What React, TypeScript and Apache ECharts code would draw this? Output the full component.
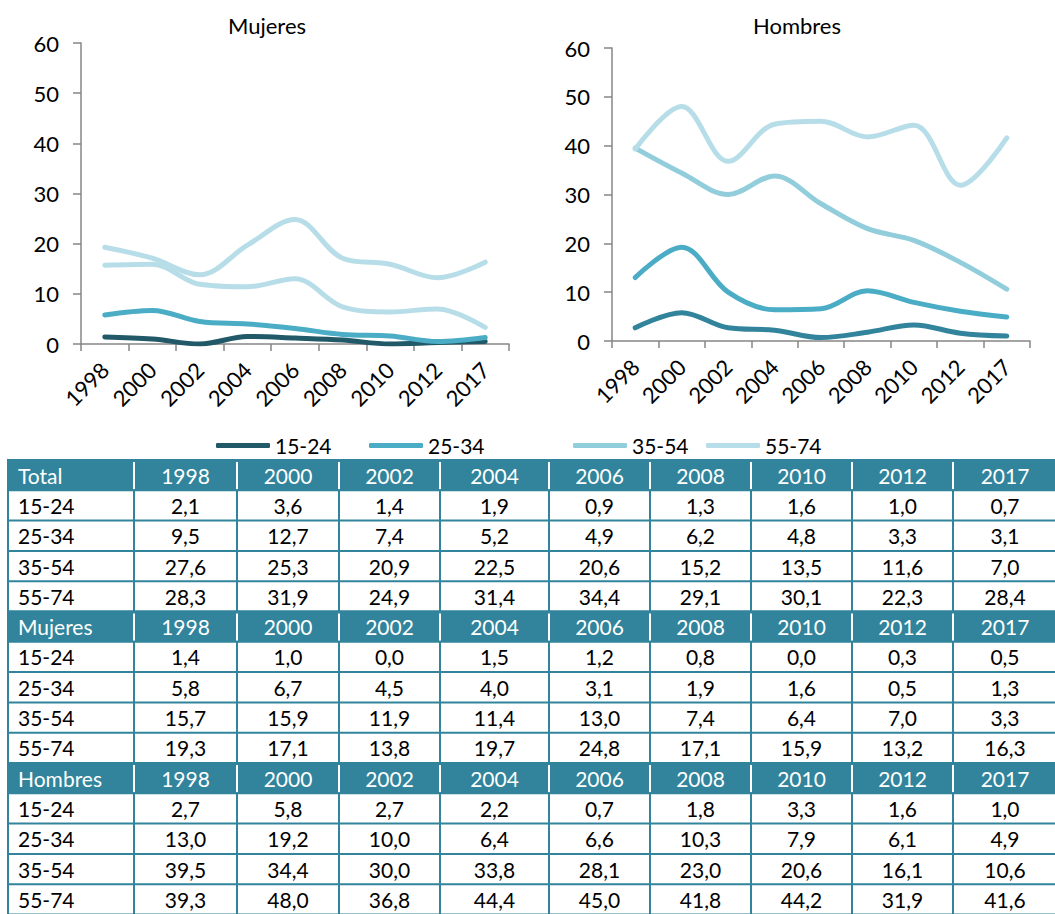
import React, { useEffect, useRef } from "react";
import * as echarts from "echarts";

// ---------- data ----------
const years = ["1998", "2000", "2002", "2004", "2006", "2008", "2010", "2012", "2017"];
const ageGroups = ["15-24", "25-34", "35-54", "55-74"];
const yTicks = [0, 10, 20, 30, 40, 50, 60];

const total_15_24 = [2.1, 3.6, 1.4, 1.9, 0.9, 1.3, 1.6, 1.0, 0.7];
const total_25_34 = [9.5, 12.7, 7.4, 5.2, 4.9, 6.2, 4.8, 3.3, 3.1];
const total_35_54 = [27.6, 25.3, 20.9, 22.5, 20.6, 15.2, 13.5, 11.6, 7.0];
const total_55_74 = [28.3, 31.9, 24.9, 31.4, 34.4, 29.1, 30.1, 22.3, 28.4];

const mujeres_15_24 = [1.4, 1.0, 0.0, 1.5, 1.2, 0.8, 0.0, 0.3, 0.5];
const mujeres_25_34 = [5.8, 6.7, 4.5, 4.0, 3.1, 1.9, 1.6, 0.5, 1.3];
const mujeres_35_54 = [15.7, 15.9, 11.9, 11.4, 13.0, 7.4, 6.4, 7.0, 3.3];
const mujeres_55_74 = [19.3, 17.1, 13.8, 19.7, 24.8, 17.1, 15.9, 13.2, 16.3];

const hombres_15_24 = [2.7, 5.8, 2.7, 2.2, 0.7, 1.8, 3.3, 1.6, 1.0];
const hombres_25_34 = [13.0, 19.2, 10.0, 6.4, 6.6, 10.3, 7.9, 6.1, 4.9];
const hombres_35_54 = [39.5, 34.4, 30.0, 33.8, 28.1, 23.0, 20.6, 16.1, 10.6];
const hombres_55_74 = [39.3, 48.0, 36.8, 44.4, 45.0, 41.8, 44.2, 31.9, 41.6];

const groupNames = ["Total", "Mujeres", "Hombres"];
const groupRows = [
  [total_15_24, total_25_34, total_35_54, total_55_74],
  [mujeres_15_24, mujeres_25_34, mujeres_35_54, mujeres_55_74],
  [hombres_15_24, hombres_25_34, hombres_35_54, hombres_55_74],
];

// ---------- styles / layout ----------
const FONT = "Lato";
const AXIS_GRAY = "#868686";
const TEAL = "#31849B";
const mujeresColors = ["#215968", "#4BACC6", "#B7DEE8", "#B7DEE8"];
const hombresColors = ["#31849B", "#4BACC6", "#92CDDC", "#B7DEE8"];
const legendColors = ["#215968", "#4BACC6", "#92CDDC", "#B7DEE8"];
const legendLefts = [216, 369, 573, 706];
const colEdges = [8, 134, 237, 339, 440, 549, 650, 751, 852, 953, 1057];
const tableTop = 460;
const rowH = 30.3;
const TABLE_FS = 21;

const fmt = (v: number) => v.toFixed(1).replace(".", ",");

function buildTable(): any[] {
  const els: any[] = [];
  const right = colEdges[colEdges.length - 1];
  const rows: { header: boolean; cells: string[] }[] = [];
  groupNames.forEach((g, gi) => {
    rows.push({ header: true, cells: [g, ...years] });
    ageGroups.forEach((a, ai) => {
      rows.push({ header: false, cells: [a, ...groupRows[gi][ai].map(fmt)] });
    });
  });
  els.push({
    type: "rect",
    shape: { x: colEdges[0], y: tableTop, width: right - colEdges[0], height: rows.length * rowH },
    style: { fill: "#ffffff" },
    silent: true,
  });
  rows.forEach((row, ri) => {
    const y0 = tableTop + ri * rowH;
    if (row.header) {
      els.push({
        type: "rect",
        shape: { x: colEdges[0] - 1, y: y0 - 1, width: right - colEdges[0] + 1, height: rowH + 1 },
        style: { fill: TEAL },
        silent: true,
      });
    }
    colEdges.forEach((cx, ci) => {
      if (ci === colEdges.length - 1) return;
      const white = row.header && ci > 0;
      els.push({
        type: "line",
        shape: { x1: cx, y1: y0 + (white ? 2 : 0), x2: cx, y2: y0 + rowH - (white ? 1 : 0) },
        style: { stroke: white ? "#ffffff" : TEAL, lineWidth: 2 },
        silent: true,
        z: 2,
      });
    });
    els.push({
      type: "line",
      shape: { x1: colEdges[0] - 1, y1: y0 + rowH, x2: right, y2: y0 + rowH },
      style: { stroke: TEAL, lineWidth: 2 },
      silent: true,
      z: 2,
    });
    row.cells.forEach((txt, ci) => {
      const first = ci === 0;
      els.push({
        type: "text",
        style: {
          text: txt,
          x: first ? colEdges[0] + 10 : (colEdges[ci] + colEdges[ci + 1]) / 2,
          y: y0 + rowH / 2,
          fill: row.header ? "#ffffff" : "#000000",
          fontSize: TABLE_FS,
          fontFamily: FONT,
          align: first ? "left" : "center",
          verticalAlign: "middle",
        },
        silent: true,
        z: 3,
      });
    });
  });
  return els;
}

export default function App() {
  const ref = useRef<HTMLDivElement>(null);
  useEffect(() => {
    if (!ref.current) return;
    const chart = echarts.init(ref.current, undefined, { renderer: "svg" });

    const xAxisBase = (gridIndex: number) => ({
      type: "category",
      gridIndex,
      data: years,
      boundaryGap: true,
      axisLine: { lineStyle: { color: AXIS_GRAY, width: 1.5 } },
      axisTick: { show: true, length: 7, lineStyle: { color: AXIS_GRAY, width: 1.5 } },
      axisLabel: { rotate: 45, fontSize: 22, color: "#000", fontFamily: FONT, margin: 22, interval: 0 },
    });
    const yAxisBase = (gridIndex: number) => ({
      type: "value",
      gridIndex,
      min: yTicks[0],
      max: yTicks[yTicks.length - 1],
      interval: yTicks[1] - yTicks[0],
      splitLine: { show: false },
      axisLine: { show: true, lineStyle: { color: AXIS_GRAY, width: 1.5 } },
      axisTick: { show: true, length: 8, lineStyle: { color: AXIS_GRAY, width: 1.5 } },
      axisLabel: { fontSize: 22, color: "#000", fontFamily: FONT, margin: 22 },
    });

    const mkSeries = (data: number[][], colors: string[], idx: number) =>
      data.map((d, i) => ({
        type: "line",
        name: ageGroups[i],
        xAxisIndex: idx,
        yAxisIndex: idx,
        data: d,
        smooth: 0.35,
        symbol: "none",
        lineStyle: { color: colors[i], width: 5, cap: "round", join: "round" },
        itemStyle: { color: colors[i] },
        z: 2 + i,
      }));

    const option: any = {
      animation: false,
      textStyle: { fontFamily: FONT },
      grid: [
        { left: 81, top: 43, width: 428, height: 301, containLabel: false },
        { left: 612, top: 48, width: 418, height: 293, containLabel: false },
      ],
      xAxis: [xAxisBase(0), xAxisBase(1)],
      yAxis: [yAxisBase(0), yAxisBase(1)],
      legend: ageGroups.map((a, i) => ({
        data: [{ name: a, itemStyle: { color: legendColors[i], borderWidth: 0 } }],
        left: legendLefts[i],
        top: 435,
        padding: 0,
        icon: "roundRect",
        itemWidth: 54,
        itemHeight: 5,
        itemStyle: { borderWidth: 0 },
        selectedMode: false,
        textStyle: { fontSize: 21, fontFamily: FONT, color: "#000" },
      })),
      series: [
        ...mkSeries([mujeres_15_24, mujeres_25_34, mujeres_35_54, mujeres_55_74], mujeresColors, 0),
        ...mkSeries([hombres_15_24, hombres_25_34, hombres_35_54, hombres_55_74], hombresColors, 1),
      ],
      graphic: [
        {
          type: "text",
          style: { text: "Mujeres", x: 267, y: 25, fill: "#000", fontSize: 22, fontFamily: FONT, align: "center", verticalAlign: "middle" },
          silent: true,
        },
        {
          type: "text",
          style: { text: "Hombres", x: 797, y: 25, fill: "#000", fontSize: 22, fontFamily: FONT, align: "center", verticalAlign: "middle" },
          silent: true,
        },
        ...buildTable(),
      ],
    };
    chart.setOption(option);
    return () => chart.dispose();
  }, []);
  return (
    <div
      ref={ref}
      style={{ position: "fixed", left: 0, top: 0, width: 1055, height: 914, background: "#fff" }}
    />
  );
}
